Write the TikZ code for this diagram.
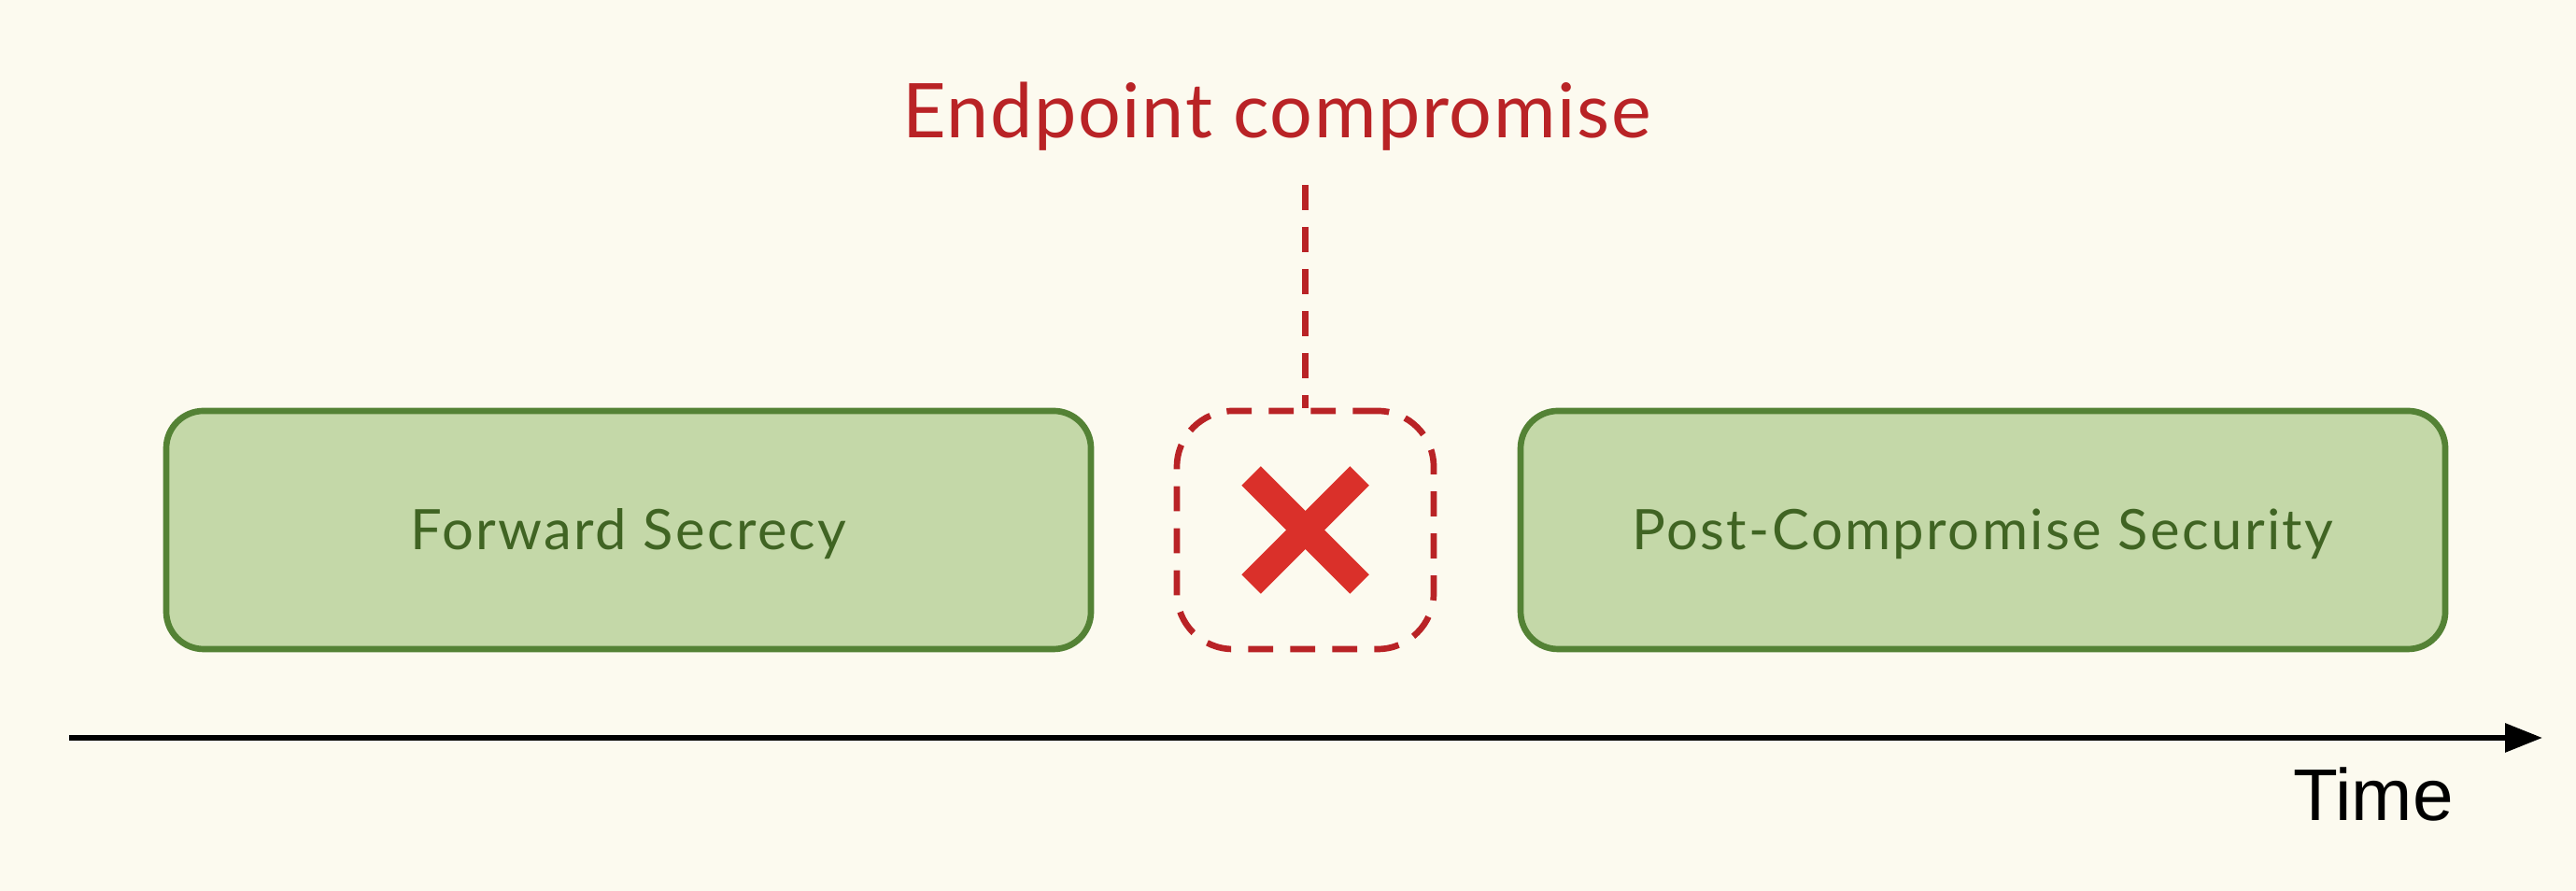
\documentclass[tikz,border=0pt]{standalone}
\usepackage{fontspec}
\setmainfont{Lato}
\newfontfamily\boxfont[LetterSpace=4]{Lato}
\newfontfamily\titlefont[LetterSpace=2]{Lato}
\newfontfamily\axisfont{Liberation Sans}
\usetikzlibrary{arrows.meta}
\definecolor{paper}{RGB}{252,250,239}
\definecolor{leaf}{RGB}{196,216,168}
\definecolor{leafline}{RGB}{84,130,53}
\definecolor{leaftext}{RGB}{64,100,35}
\definecolor{alarm}{RGB}{185,35,38}
\definecolor{crossred}{RGB}{218,48,42}
\begin{document}
\begin{tikzpicture}[
    phase/.style={draw=leafline, fill=leaf, line width=1.9pt, rounded corners=0.4cm,
      minimum width=9.9cm, minimum height=2.55cm, text=leaftext,
      font=\boxfont\fontsize{17}{20}\selectfont, text height=0.43cm, text depth=0pt},
    breach/.style={draw=alarm, line width=1.9pt, rounded corners=0.6cm,
      dash pattern=on 7.6pt off 5.2pt, minimum width=2.75cm, minimum height=2.55cm},
    dashline/.style={draw=alarm, line width=1.9pt, dash pattern=on 7.6pt off 5.2pt},
    cross/.style={crossred, line width=0.29cm},
    axis/.style={line width=1.7pt, -{Triangle[length=0.4cm,width=0.3cm]}}]
  \fill[paper] (0,0) rectangle (27.58,9.54);
  \draw
    (6.73,3.865) node[phase] (fs){Forward Secrecy}
    (13.975,3.865) node[breach] (hit){}
    (21.23,3.865) node[phase] (pcs){Post-Compromise Security}
    (13.67,8.06) node[anchor=base, text=alarm, font=\titlefont\fontsize{23}{27}\selectfont] (title){Endpoint compromise}
    (25.41,0.75) node[anchor=base, font=\axisfont\fontsize{22.3}{26}\selectfont] (time){Time};
  \coordinate (lead) at (13.975,7.56);
  \coordinate (t0) at (0.74,1.64);
  \coordinate (t1) at (27.22,1.64);
  \draw[dashline] (lead) -- (hit.north);
  \draw[cross] ([shift={(-0.58,0.58)}]hit.center) -- ([shift={(0.58,-0.58)}]hit.center);
  \draw[cross] ([shift={(-0.58,-0.58)}]hit.center) -- ([shift={(0.58,0.58)}]hit.center);
  \draw[axis] (t0) -- (t1);
\end{tikzpicture}
\end{document}
